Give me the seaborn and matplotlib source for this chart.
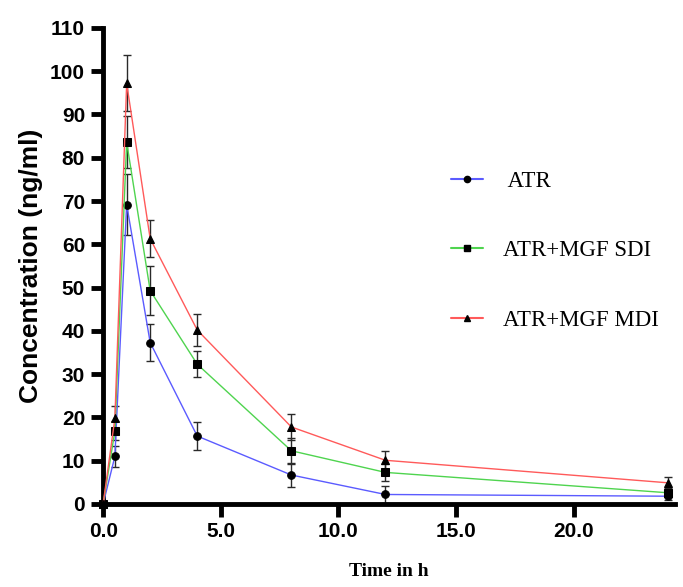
import matplotlib
matplotlib.use("Agg")
import matplotlib.pyplot as plt
import seaborn as sns
import pandas as pd
from matplotlib.lines import Line2D

time_h = [0, 0.5, 1, 2, 4, 8, 12, 24]
atr = [0, 11.0, 69.2, 37.3, 15.7, 6.7, 2.2, 1.8]
atr_err = [0, 2.5, 7.0, 4.2, 3.2, 2.7, 2.0, 0.8]
sdi = [0, 16.9, 83.6, 49.3, 32.3, 12.3, 7.3, 2.6]
sdi_err = [0, 2.2, 6.0, 5.7, 3.0, 3.0, 2.0, 1.0]
mdi = [0, 19.8, 97.2, 61.3, 40.2, 17.8, 10.1, 4.9]
mdi_err = [0, 2.8, 6.5, 4.3, 3.8, 2.9, 2.1, 1.4]

labels = [" ATR", "ATR+MGF SDI", "ATR+MGF MDI"]
colors = ["#5b5bff", "#4fd44f", "#ff5a5a"]
markers = ["o", "s", "^"]
x_ticks = [0, 5, 10, 15, 20]
x_tick_labels = ["0.0", "5.0", "10.0", "15.0", "20.0"]
y_ticks = list(range(0, 111, 10))

sns.set_style("white")
plt.rcParams['font.family'] = ['Liberation Sans', 'DejaVu Sans']
plt.rcParams['text.color'] = 'black'
plt.rcParams['axes.labelcolor'] = 'black'
plt.rcParams['xtick.color'] = 'black'
plt.rcParams['ytick.color'] = 'black'

fig = plt.figure(figsize=(6.83, 5.87), dpi=100)
ax = fig.add_axes([0.151, 0.1414, 0.837, 0.811])

series = [(atr, atr_err), (sdi, sdi_err), (mdi, mdi_err)]
msizes = [5.5, 5.2, 6.0]
handles = []
for (vals, err), lab, col, mk, ms in zip(series, labels, colors, markers, msizes):
    df = pd.DataFrame({"t": time_h, "c": vals})
    ax.errorbar(time_h, vals, yerr=err, fmt="none", ecolor="#2a2a2a",
                elinewidth=1.0, capsize=3, capthick=1.0, zorder=2)
    sns.lineplot(data=df, x="t", y="c", ax=ax, color=col, lw=1.0,
                 marker=mk, markersize=ms,
                 mfc="black", mec="black", legend=False, zorder=3,
                 clip_on=False)
    handles.append(Line2D([0], [0], color=col, lw=1.5, marker=mk,
                          markersize=4.5, mfc="black", mec="black"))

ax.set_xlim(0, 24.3)
ax.set_ylim(0, 110)
ax.set_xticks(x_ticks)
ax.set_xticklabels(x_tick_labels)
ax.set_yticks(y_ticks)

for s in ["top", "right"]:
    ax.spines[s].set_visible(False)
for s in ["left", "bottom"]:
    ax.spines[s].set_linewidth(3.5)
    ax.spines[s].set_color("black")

ax.tick_params(axis="both", which="major", direction="out", length=9,
               width=3.5, color="black", labelcolor="black", labelsize=15,
               pad=4, bottom=True, left=True)
for lbl in ax.get_xticklabels() + ax.get_yticklabels():
    lbl.set_fontweight("bold")

ax.set_ylabel("Concentration (ng/ml)", fontsize=19, fontweight="bold",
              labelpad=5, color="black")
ax.set_xlabel("Time in h", fontsize=14, fontweight="bold",
              family=["Liberation Serif"], labelpad=16, color="black")

leg = ax.legend(handles, labels, loc="upper left", bbox_to_anchor=(0.585, 0.728),
                frameon=False, prop={"family": "Liberation Serif", "size": 16.5},
                handlelength=1.4, labelspacing=2.1, handletextpad=0.85,
                borderaxespad=0.2)

fig.savefig("out.png", dpi=100)
